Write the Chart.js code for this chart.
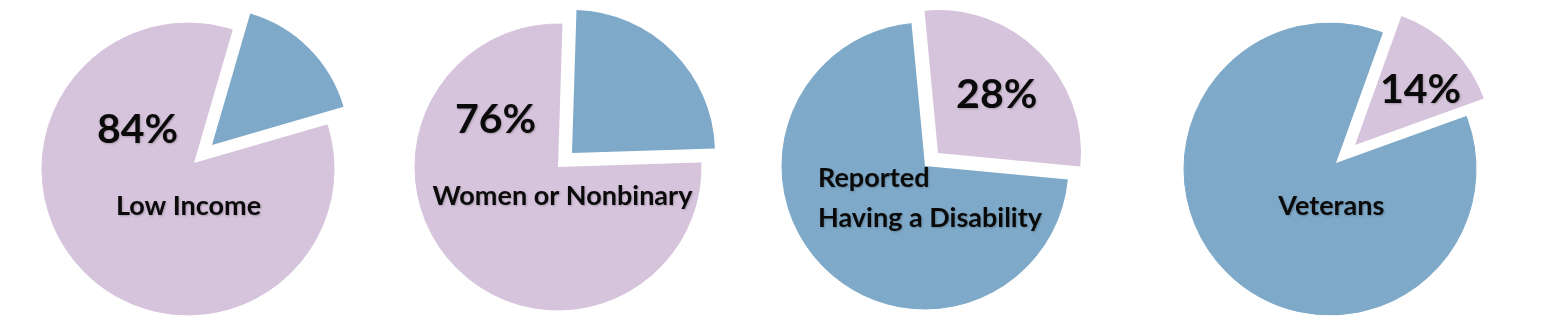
<!DOCTYPE html>
<html>
<head>
<meta charset="utf-8">
<script src="https://cdn.jsdelivr.net/npm/chart.js@4.4.0/dist/chart.umd.min.js"></script>
<style>
html,body{margin:0;padding:0;background:#ffffff;width:1547px;height:330px;overflow:hidden;position:relative}
canvas{position:absolute}
</style>
</head>
<body>
<script>
// ---------- data ----------
const categories = ['Low Income', 'Women or Nonbinary', 'Reported Having a Disability', 'Veterans'];
const highlightedPct = [84, 76, 28, 14];          // the share printed on each pie
const explodedValues = [16, 24, 28, 14];          // the pulled-out slice of each pie
const restValues = [84, 76, 72, 86];              // the remaining slice of each pie
const percentLabels = ['84%', '76%', '28%', '14%'];
const categoryLines = [['Low Income'], ['Women or Nonbinary'], ['Reported', 'Having a Disability'], ['Veterans']];

// ---------- styles ----------
const PINK = '#D6C3DC';
const BLUE = '#7EA9C8';
const explodedColor = [BLUE, BLUE, PINK, PINK];
const restColor = [PINK, PINK, BLUE, BLUE];

// ---------- geometry (page px) ----------
const geom = [
  {c: [188, 169], R: 146, mouth: [194, 163], s: [212, 145], r: 137},
  {c: [558, 167], R: 143, mouth: [558, 167], s: [572, 153], r: 143},
  {c: [925, 166], R: 143, mouth: [925, 166], s: [938, 153], r: 143},
  {c: [1330, 169], R: 146, mouth: [1336, 163], s: [1355, 145], r: 137}
];
const textPos = [
  {pct: [137.5, 143], cat: [188.5, 215], align: 'center', lh: 40},
  {pct: [495.5, 133], cat: [562.5, 204.5], align: 'center', lh: 40},
  {pct: [996.7, 108], cat: [818, 186.5], align: 'left', lh: 40.6},
  {pct: [1420.5, 103], cat: [1331.3, 215], align: 'center', lh: 40}
];

const S = 420;

function makeLayer(center, radius, values, colors, borderColors, borderWidth, rotation, extraPlugins) {
  const cv = document.createElement('canvas');
  cv.width = S; cv.height = S;
  cv.style.left = (center[0] - S / 2) + 'px';
  cv.style.top = (center[1] - S / 2) + 'px';
  document.body.appendChild(cv);
  return new Chart(cv, {
    type: 'pie',
    data: {
      labels: ['a', 'b'],
      datasets: [{
        data: values,
        backgroundColor: colors,
        borderColor: borderColors,
        borderWidth: borderWidth,
        clip: false
      }]
    },
    options: {
      responsive: false,
      animation: false,
      events: [],
      radius: radius,
      rotation: rotation,
      layout: {padding: 0},
      plugins: {legend: {display: false}, tooltip: {enabled: false}}
    },
    plugins: extraPlugins || []
  });
}

function textPlugin(i, offX, offY) {
  return {
    id: 'labels' + i,
    afterDraw(chart) {
      const ctx = chart.ctx;
      const tp = textPos[i];
      ctx.save();
      ctx.fillStyle = '#0a0a0a';
      ctx.shadowColor = 'rgba(0,0,0,0.22)';
      ctx.shadowOffsetX = 1;
      ctx.shadowOffsetY = 1;
      ctx.shadowBlur = 2;
      ctx.textBaseline = 'alphabetic';
      ctx.font = 'bold 41px Lato';
      ctx.textAlign = 'center';
      ctx.fillText(percentLabels[i], tp.pct[0] - offX, tp.pct[1] - offY);
      ctx.font = 'bold 27px Lato';
      ctx.textAlign = tp.align;
      categoryLines[i].forEach((line, k) => {
        ctx.fillText(line, tp.cat[0] - offX, tp.cat[1] - offY + k * tp.lh);
      });
      ctx.restore();
    }
  };
}

function build() {
  for (let i = 0; i < categories.length; i++) {
    const g = geom[i];
    const vals = [explodedValues[i], restValues[i]];
    // exploded slice centred on 45 degrees (top-right)
    const rot = 45 - explodedValues[i] * 3.6 / 2;
    // 1) full disc of the remaining slice colour
    makeLayer(g.c, g.R, vals, [restColor[i], restColor[i]], [restColor[i], restColor[i]], 1, rot);
    // 2) white gap where the exploded slice was cut out
    makeLayer(g.mouth, g.R + 22, vals, ['#ffffff', 'rgba(0,0,0,0)'], ['#ffffff', 'rgba(0,0,0,0)'], 0, rot);
    // 3) the exploded slice itself + labels
    makeLayer(g.s, g.r, vals, [explodedColor[i], 'rgba(0,0,0,0)'], ['rgba(0,0,0,0)', 'rgba(0,0,0,0)'], 0, rot,
      [textPlugin(i, g.s[0] - S / 2, g.s[1] - S / 2)]);
  }
}

if (document.fonts && document.fonts.load) {
  Promise.all([document.fonts.load('bold 41px Lato'), document.fonts.load('bold 27px Lato')])
    .then(build, build);
} else {
  build();
}
</script>
</body>
</html>
